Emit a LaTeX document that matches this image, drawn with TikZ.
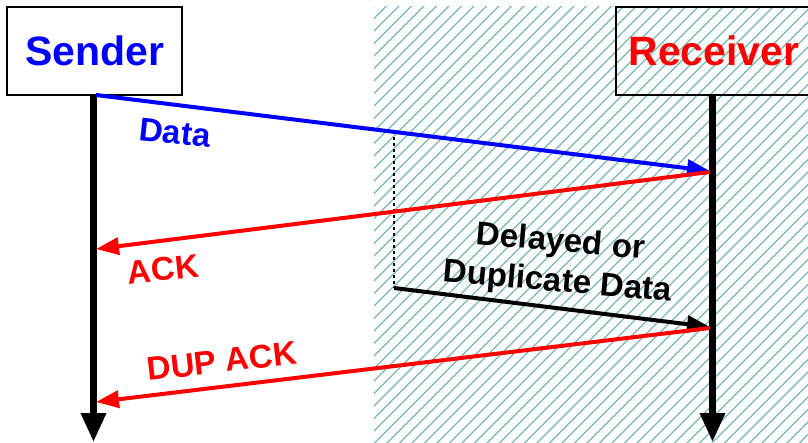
\documentclass[tikz,border=0pt]{standalone}
\usepackage{fontspec}
\setmainfont{Liberation Sans}
\usetikzlibrary{arrows.meta}
\definecolor{hatchteal}{RGB}{120,182,182}
\definecolor{msgblue}{RGB}{0,0,255}
\definecolor{msgred}{RGB}{255,0,0}
\tikzset{
  titlebox/.style={draw=black, line width=2pt, inner sep=0pt,
    font=\fontsize{41}{49}\selectfont\bfseries},
  lifeline/.style={line width=6.5pt, -{Triangle[length=29pt,width=24pt]}},
  msg/.style={line width=4pt, -{Triangle[length=23pt,width=17pt]}},
  msglabel/.style={inner sep=0pt, font=\fontsize{33}{40}\selectfont\bfseries}
}
\begin{document}
\begin{tikzpicture}[x=1pt,y=-1pt]
  \useasboundingbox (0,0) rectangle (808,442);
  % shaded receiver-side region
  \begin{scope}
    \clip (374,6) rectangle (808,442);
    \foreach \c in {380,392.5,...,1262}
      \draw[hatchteal, line width=1.3pt] (\c-450,450) -- (\c,0);
  \end{scope}
  % endpoints
  \node[titlebox, minimum width=175pt, minimum height=88pt, text=msgblue] (snd) at (94.5,51) {Sender};
  \node[titlebox, minimum width=196pt, minimum height=88pt, text=msgred] (rcv) at (714,51) {Receiver};
  \coordinate (sEnd) at (93.5,442);
  \coordinate (rEnd) at (712.5,442);
  \draw[lifeline] (snd.south -| sEnd) -- (sEnd);
  \draw[lifeline] (rcv.south -| rEnd) -- (rEnd);
  % message points
  \coordinate (d0) at (96,95);
  \coordinate (d1) at (710,171);
  \coordinate (a0) at (710,172);
  \coordinate (a1) at (96,249);
  \coordinate (q0) at (394,131);
  \coordinate (q1) at (394,288);
  \coordinate (q2) at (710,327);
  \coordinate (u0) at (710,328);
  \coordinate (u1) at (96,402);
  \draw[line width=1.5pt, dash pattern=on 3pt off 3pt] (q0) -- (q1);
  \draw[msg, msgblue] (d0) -- (d1);
  \draw[msg, msgred] (a0) -- (a1);
  \draw[msg, black] (q1) -- (q2);
  \draw[msg, msgred] (u0) -- (u1);
  % labels
  \node[msglabel, text=msgblue, rotate=-6] (ldata) at (175,133) {Data};
  \node[msglabel, text=msgred, rotate=6] (lack) at (163,269) {ACK};
  \node[msglabel, text=msgred, rotate=6.5] (ldup) at (222,361) {DUP ACK};
  \node[msglabel, align=center, rotate=-5] (ldel) at (559,263) {Delayed or\\Duplicate Data};
\end{tikzpicture}
\end{document}
